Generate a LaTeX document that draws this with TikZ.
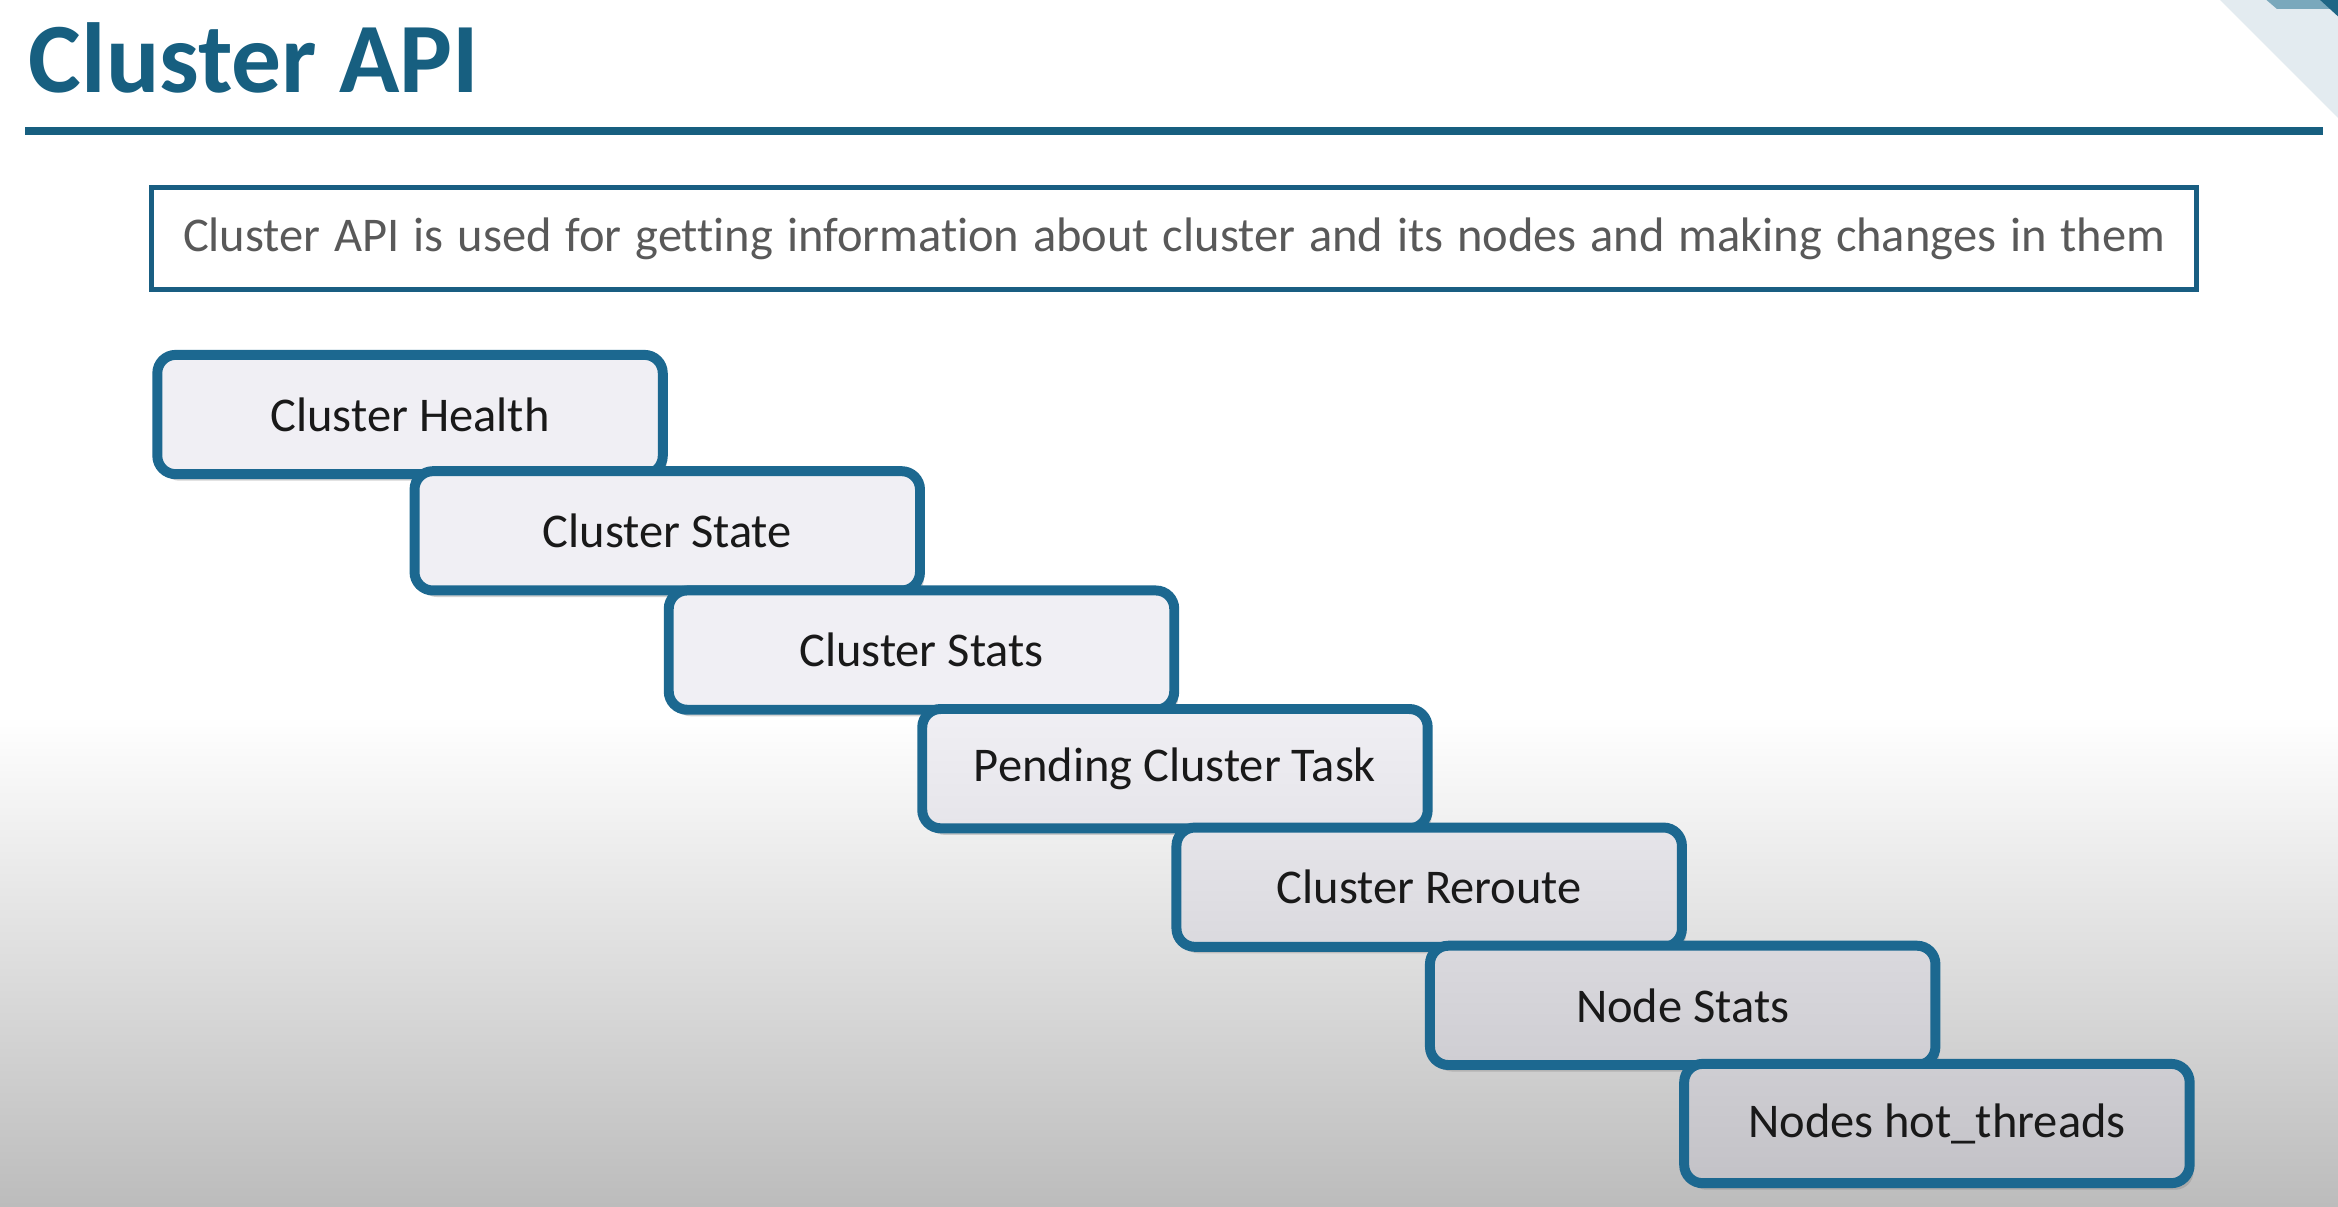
\documentclass[tikz,border=0pt]{standalone}
\usepackage{fontspec}
\setmainfont{Carlito}[Ligatures=NoCommon]
\usepackage{xcolor}
\usepackage{tikz}
\usetikzlibrary{shadows}

\definecolor{apiblue}{HTML}{175F80}
\definecolor{rimblue}{HTML}{1C6890}
\definecolor{boxtop}{RGB}{240,239,244}
\definecolor{boxbot}{RGB}{193,192,197}
\definecolor{floorgray}{HTML}{BCBCBC}
\definecolor{ribbonpale}{HTML}{E3EBF0}
\definecolor{ribbonmid}{HTML}{7AA8BC}
\definecolor{ribbondark}{HTML}{1F6685}

\begin{document}
\begin{tikzpicture}[every node/.style={font=\fontsize{18.5}{22}\selectfont},
  stair/.style={draw=rimblue,line width=3.8pt,rounded corners=7pt,
    minimum width=6.78cm,minimum height=1.6cm,inner sep=0pt,text=black!90,
    drop shadow={shadow xshift=1.5pt,shadow yshift=-2.5pt,opacity=.35}},
  tone/.style 2 args={top color=boxbot!#1!boxtop,bottom color=boxbot!#2!boxtop}]
  \useasboundingbox (0,0) rectangle (31.36,16.18);
  \fill[white] (0,0) rectangle (31.36,16.18);
  \shade[top color=white,bottom color=floorgray] (0,0) rectangle (31.36,6.58);
  % corner ribbons
  \fill[ribbonpale] (29.78,16.18) -- (31.36,16.18) -- (31.36,14.6) -- cycle;
  \fill[ribbonmid] (30.4,16.18) -- (31.36,16.18) -- (31.36,16.06) -- (30.54,16.06) -- cycle;
  \fill[ribbondark] (31.12,16.18) -- (31.36,16.18) -- (31.36,15.96) -- cycle;

  \node[anchor=base west,inner sep=0pt,text=apiblue,
    font=\fontsize{38}{44}\selectfont\bfseries] (title) at (0.38,14.94) {Cluster API};
  \draw[apiblue,line width=3pt] (0.34,14.42) -- (31.16,14.42);

  \node[draw=rimblue!90!black,line width=2pt,minimum width=27.43cm,minimum height=1.37cm,
    text=black!65] (about) at (15.75,12.98)
    {\spaceskip=5.3pt plus 1pt minus 1pt Cluster API is used for getting information about cluster and its nodes and making changes in them};

  % staircase of calls
  \node[stair,tone={0}{0}] (health) at (5.50,10.62) {Cluster Health};
  \node[stair,tone={0}{0}] (state) at (8.95,9.06) {Cluster State};
  \node[stair,tone={0}{0}] (stats) at (12.36,7.46) {Cluster Stats};
  \node[stair,tone={0}{22}] (pending) at (15.76,5.87) {Pending Cluster Task};
  \node[stair,tone={22}{47}] (reroute) at (19.17,4.28) {Cluster Reroute};
  \node[stair,tone={47}{71}] (nodestats) at (22.57,2.695) {Node Stats};
  \node[stair,tone={71}{96}] (hotthreads) at (25.98,1.11) {Nodes hot\_threads};
\end{tikzpicture}
\end{document}
